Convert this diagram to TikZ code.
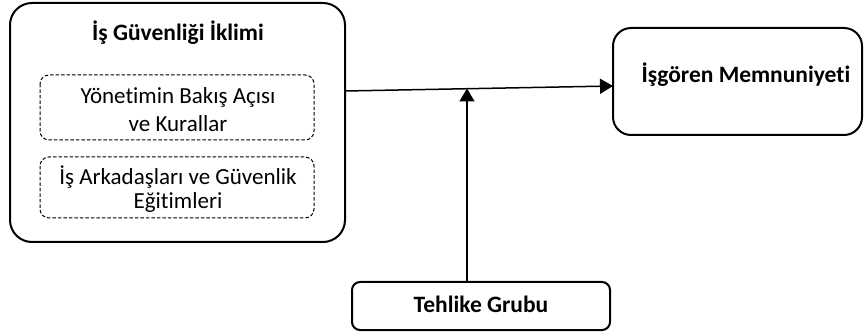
\documentclass[tikz,border=0pt]{standalone}
\usepackage{fontspec}
\setmainfont[Ligatures=NoCommon]{Carlito}
\usetikzlibrary{arrows.meta}
\begin{document}
\begin{tikzpicture}[x=1pt,y=-1pt,
  solidbox/.style={draw=black, line width=2pt, rounded corners=22pt},
  dashbox/.style={draw=black, line width=1pt, dashed, dash pattern=on 3.5pt off 2pt, rounded corners=9pt},
  boldlabel/.style={font=\fontsize{23.5}{27}\selectfont\bfseries, inner sep=0pt},
  plainlabel/.style={font=\fontsize{23}{27}\selectfont, inner sep=0pt},
  conn/.style={line width=1.5pt, -{Triangle[length=13pt,width=15pt]}}]
\useasboundingbox (0,0) rectangle (864,336);
% main boxes
\draw[solidbox] (10,3) rectangle (345,242);
\coordinate (climR) at (345,91);
\draw[dashbox] (40,75) rectangle (314,140);
\draw[dashbox] (40,157) rectangle (314,218);
\draw[solidbox, rounded corners=18pt] (613,28) rectangle (862,135);
\coordinate (satL) at (613,86);
\draw[solidbox, rounded corners=8pt] (352,282) rectangle (610,330);
\coordinate (hazT) at (467,282);
\coordinate (join) at (467,88.5);
% labels
\node[boldlabel] (t1) at (178,33) {İş Güvenliği İklimi};
\node[plainlabel] (a1) at (178,97) {Yönetimin Bakış Açısı};
\node[plainlabel] (a2) at (178,124) {ve Kurallar};
\node[plainlabel] (b1) at (178,177) {İş Arkadaşları ve Güvenlik};
\node[plainlabel] (b2) at (178,202) {Eğitimleri};
\node[boldlabel] (s1) at (746,75) {İşgören Memnuniyeti};
\node[boldlabel] (h1) at (481,304) {Tehlike Grubu};
% connectors
\draw[conn] (climR) -- (satL);
\draw[conn] (hazT) -- (join);
\end{tikzpicture}
\end{document}
